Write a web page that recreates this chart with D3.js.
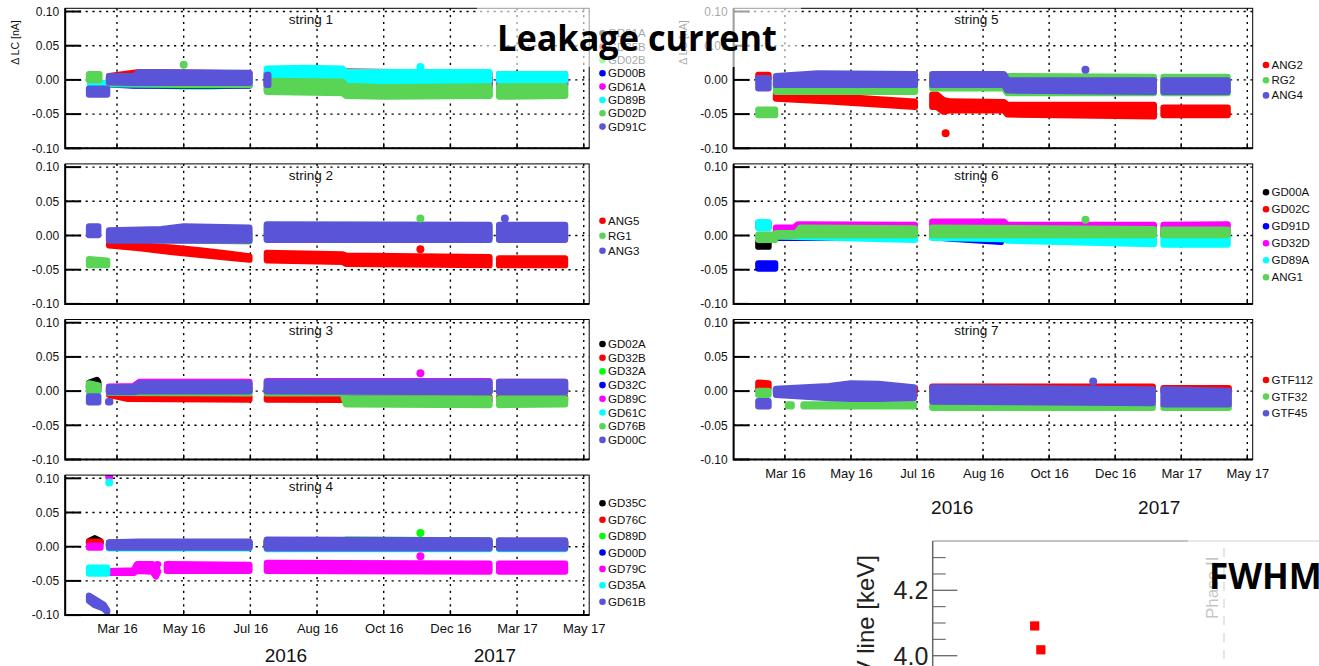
<!DOCTYPE html>
<html>
<head>
<meta charset="utf-8">
<script src="https://cdn.jsdelivr.net/npm/d3@7"></script>
<style>
body { margin: 0; background: #fff; }
</style>
</head>
<body>
<div id="chart"></div>
<script>
// ROOT time axis: one tick every 60 days, day 0 = "Mar 16"
var tickDays = [0, 60, 120, 180, 240, 300, 360, 420];
var tickLabels = ["Mar 16", "May 16", "Jul 16", "Aug 16", "Oct 16", "Dec 16", "Mar 17", "May 17"];
var yearDays = [152, 340];
var yearLabels = ["2016", "2017"];
var yTicks = [-0.10, -0.05, 0, 0.05, 0.10];
var dayDomain = [-46.6, 424.9];

// each detector: list of segments, a segment is a list of [day, low, high] of the band of points
var string1Names = ["GD91A", "GD35B", "GD02B", "GD00B", "GD61A", "GD89B", "GD02D", "GD91C"];
var string1Bands = [
    [[[-10, -0.006, 0.006], [122, -0.006, 0.006]], [[132, -0.006, 0.006], [338, -0.006, 0.006]], [[341, -0.006, 0.006], [406, -0.006, 0.006]]],
    [[[-10, -0.004, 0.010], [20, -0.003, 0.016], [122, -0.003, 0.014]], [[132, -0.003, 0.015], [160, -0.002, 0.018], [200, -0.002, 0.017], [338, -0.004, 0.014]], [[341, -0.004, 0.013], [406, -0.004, 0.013]]],
    [[[-10, -0.011, 0.0], [60, -0.014, 0.0], [85, -0.014, 0.0], [122, -0.012, 0.0]], [[132, -0.020, -0.004], [338, -0.027, -0.006]], [[341, -0.027, -0.006], [406, -0.027, -0.006]]],
    [[[-10, -0.011, 0.004], [15, -0.013, 0.006], [122, -0.013, 0.006]], [[132, -0.012, 0.004], [338, -0.012, 0.004]], [[341, -0.012, 0.004], [406, -0.012, 0.004]]],
    [[[-27, -0.016, -0.004], [-9, -0.016, -0.004]], [[132, -0.010, 0.004], [338, -0.012, 0.004]], [[341, -0.013, 0.004], [406, -0.013, 0.004]]],
    [[[-27, -0.012, 0.0], [-8, -0.012, 0.0]], [[-10, -0.011, 0.006], [122, -0.012, 0.006]], [[132, -0.004, 0.021], [170, -0.003, 0.022], [203, -0.003, 0.021], [206, -0.006, 0.016], [338, -0.006, 0.016]], [[341, -0.006, 0.013], [406, -0.006, 0.013]]],
    [[[-28, -0.005, 0.013], [-13, -0.005, 0.013]], [[-10, -0.010, 0.008], [60, -0.012, 0.010], [122, -0.012, 0.008]], [[132, -0.022, 0.003], [203, -0.024, 0.002], [206, -0.028, -0.004], [240, -0.029, -0.006], [338, -0.028, -0.005]], [[341, -0.029, -0.005], [406, -0.028, -0.005]]],
    [[[-28, -0.026, -0.008], [-6, -0.026, -0.008]], [[-10, -0.008, 0.010], [15, -0.009, 0.010], [20, -0.009, 0.016], [122, -0.009, 0.015]], [[132, -0.012, 0.012], [139, -0.012, 0.012]]]
];
var string1Outliers = [[6, 60, 0.022], [5, 273, 0.019]];

var string2Names = ["ANG5", "RG1", "ANG3"];
var string2Bands = [
    [[[-10, -0.019, -0.008], [20, -0.023, -0.010], [50, -0.029, -0.013], [75, -0.033, -0.017], [100, -0.037, -0.022], [122, -0.040, -0.026]], [[132, -0.041, -0.021], [203, -0.043, -0.023], [206, -0.046, -0.025], [338, -0.048, -0.027]], [[341, -0.048, -0.029], [406, -0.048, -0.029]]],
    [[[-28, -0.048, -0.030], [-6, -0.048, -0.032]], [[-10, -0.010, 0.008], [122, -0.013, 0.008]], [[132, -0.010, 0.018], [338, -0.008, 0.018]], [[341, -0.008, 0.018], [406, -0.008, 0.018]]],
    [[[-28, -0.004, 0.018], [-14, -0.004, 0.018]], [[-10, -0.012, 0.012], [40, -0.012, 0.014], [60, -0.012, 0.018], [122, -0.012, 0.016]], [[132, -0.011, 0.021], [338, -0.011, 0.020]], [[341, -0.011, 0.020], [406, -0.011, 0.020]]]
];
var string2Outliers = [[0, 273, -0.020], [1, 273, 0.025], [2, 349, 0.025]];

var string3Names = ["GD02A", "GD32B", "GD32A", "GD32C", "GD89C", "GD61C", "GD76B", "GD00C"];
var string3Bands = [
    [[[-28, 0.001, 0.017], [-18, 0.002, 0.021], [-14, 0.001, 0.018]], [[-10, -0.004, 0.008], [122, -0.004, 0.008]], [[132, -0.004, 0.008], [338, -0.004, 0.008]], [[341, -0.004, 0.008], [406, -0.004, 0.008]]],
    [[[-10, -0.010, 0.0], [10, -0.016, -0.003], [122, -0.017, -0.004]], [[132, -0.017, -0.004], [338, -0.018, -0.004]], [[341, -0.018, -0.004], [406, -0.018, -0.004]]],
    [[[-28, -0.003, 0.012], [-14, -0.003, 0.012]], [[-10, -0.005, 0.005], [122, -0.005, 0.005]], [[132, -0.005, 0.005], [338, -0.005, 0.005]], [[341, -0.005, 0.005], [406, -0.005, 0.005]]],
    [[[-10, -0.005, 0.005], [122, -0.005, 0.005]], [[132, -0.005, 0.005], [338, -0.005, 0.005]], [[341, -0.005, 0.005], [406, -0.005, 0.005]]],
    [[[-28, 0.0, 0.012], [-14, 0.0, 0.012]], [[-10, 0.0, 0.011], [15, 0.0, 0.012], [20, 0.0, 0.018], [122, 0.0, 0.018]], [[132, 0.0, 0.019], [338, 0.0, 0.019]], [[341, 0.0, 0.018], [406, 0.0, 0.018]]],
    [[[-28, -0.006, 0.006], [-14, -0.006, 0.006]], [[-10, -0.006, 0.006], [122, -0.006, 0.006]], [[132, -0.006, 0.006], [338, -0.006, 0.006]], [[341, -0.006, 0.006], [406, -0.006, 0.006]]],
    [[[-28, -0.005, 0.016], [-14, -0.004, 0.013]], [[-10, -0.007, 0.004], [122, -0.008, 0.004]], [[132, -0.008, 0.004], [203, -0.008, 0.004], [206, -0.024, -0.006], [338, -0.025, -0.006]], [[341, -0.025, -0.006], [406, -0.024, -0.006]]],
    [[[-28, -0.021, -0.003], [-14, -0.021, -0.003]], [[-9, -0.021, -0.010], [-5, -0.021, -0.010]], [[-10, -0.006, 0.010], [15, -0.006, 0.010], [20, -0.005, 0.016], [122, -0.005, 0.016]], [[132, -0.005, 0.018], [338, -0.006, 0.018]], [[341, -0.006, 0.018], [406, -0.006, 0.018]]]
];
var string3Outliers = [[4, 273, 0.026]];

var string4Names = ["GD35C", "GD76C", "GD89D", "GD00D", "GD79C", "GD35A", "GD61B"];
var string4Bands = [
    [[[-28, 0.002, 0.013], [-20, 0.003, 0.017], [-12, 0.002, 0.013]], [[-10, -0.003, 0.010], [122, -0.003, 0.010]], [[132, -0.003, 0.012], [338, -0.003, 0.012]], [[341, -0.003, 0.012], [406, -0.003, 0.012]]],
    [[[-28, 0.0, 0.012], [-12, 0.0, 0.012]], [[-10, -0.003, 0.010], [122, -0.003, 0.010]], [[132, -0.003, 0.014], [203, -0.003, 0.014], [206, -0.003, 0.012], [338, -0.003, 0.012]], [[341, -0.003, 0.012], [406, -0.003, 0.012]]],
    [[[-10, -0.003, 0.008], [122, -0.003, 0.008]], [[132, -0.003, 0.012], [203, -0.003, 0.012], [206, -0.003, 0.015], [338, -0.003, 0.014]], [[341, -0.003, 0.013], [406, -0.003, 0.012]]],
    [[[-10, -0.004, 0.006], [122, -0.004, 0.006]], [[132, -0.004, 0.006], [338, -0.004, 0.006]], [[341, -0.004, 0.006], [406, -0.004, 0.006]]],
    [[[-28, -0.006, 0.006], [-12, -0.006, 0.006]], [[-10, -0.043, -0.031], [15, -0.043, -0.030], [18, -0.040, -0.021], [32, -0.041, -0.021], [35, -0.048, -0.025], [37, -0.041, -0.021], [39, -0.040, -0.021]], [[42, -0.040, -0.021], [122, -0.040, -0.022]], [[132, -0.040, -0.019], [338, -0.041, -0.020]], [[341, -0.041, -0.020], [406, -0.041, -0.020]]],
    [[[-28, -0.044, -0.026], [-6, -0.044, -0.026]], [[-10, -0.007, 0.005], [122, -0.007, 0.005]], [[132, -0.008, 0.005], [338, -0.008, 0.005]], [[341, -0.008, 0.005], [406, -0.008, 0.005]]],
    [[[-28, -0.084, -0.067], [-20, -0.090, -0.072], [-12, -0.095, -0.080], [-6, -0.100, -0.088]], [[-10, -0.006, 0.011], [20, -0.006, 0.012], [122, -0.006, 0.012]], [[132, -0.007, 0.015], [338, -0.007, 0.014]], [[341, -0.007, 0.014], [406, -0.007, 0.014]]]
];
var string4Outliers = [[4, -7, 0.102], [5, -7, 0.094], [2, 273, 0.020], [4, 273, -0.014]];

var string5Names = ["ANG2", "RG2", "ANG4"];
var string5Bands = [
    [[[-27, -0.002, 0.012], [-12, -0.002, 0.012]], [[-11, -0.032, -0.015], [40, -0.036, -0.019], [121, -0.044, -0.027]], [[131, -0.044, -0.017], [138, -0.044, -0.017], [144, -0.051, -0.025], [150, -0.049, -0.027], [199, -0.049, -0.028], [202, -0.055, -0.032], [338, -0.058, -0.032]], [[341, -0.056, -0.036], [405, -0.056, -0.036]]],
    [[[-27, -0.056, -0.039], [-6, -0.056, -0.039]], [[-11, -0.022, 0.0], [121, -0.022, 0.0]], [[131, -0.017, 0.005], [199, -0.017, 0.005], [202, -0.024, 0.010], [338, -0.024, 0.009]], [[341, -0.024, 0.009], [405, -0.024, 0.009]]],
    [[[-27, -0.017, 0.007], [-12, -0.017, 0.007]], [[-11, -0.012, 0.010], [30, -0.012, 0.014], [121, -0.012, 0.013]], [[131, -0.012, 0.013], [199, -0.012, 0.013], [202, -0.020, 0.004], [338, -0.022, 0.004]], [[341, -0.022, 0.004], [405, -0.022, 0.004]]]
];
var string5Outliers = [[0, 146, -0.078], [2, 273, 0.015]];

var string6Names = ["GD00A", "GD02C", "GD91D", "GD32D", "GD89A", "ANG1"];
var string6Bands = [
    [[[-27, -0.021, -0.005], [-12, -0.021, -0.005]], [[-11, -0.004, 0.006], [121, -0.004, 0.006]], [[131, -0.004, 0.006], [338, -0.004, 0.006]], [[341, -0.004, 0.006], [405, -0.004, 0.006]]],
    [[[-11, -0.004, 0.006], [121, -0.004, 0.006]], [[131, -0.004, 0.006], [338, -0.004, 0.006]], [[341, -0.004, 0.006], [405, -0.004, 0.006]]],
    [[[-27, -0.053, -0.036], [-6, -0.053, -0.036]], [[-11, -0.008, 0.003], [121, -0.008, 0.003]], [[131, -0.007, 0.004], [150, -0.009, 0.004], [199, -0.014, 0.0]]],
    [[[-27, 0.008, 0.023], [-12, 0.008, 0.023]], [[-11, 0.0, 0.016], [8, 0.0, 0.016], [12, 0.0, 0.021], [121, 0.0, 0.020]], [[131, 0.0, 0.025], [199, 0.0, 0.025], [202, 0.0, 0.020], [338, 0.0, 0.020]], [[341, 0.0, 0.020], [405, 0.0, 0.021]]],
    [[[-27, 0.006, 0.024], [-12, 0.006, 0.024]], [[-11, -0.006, 0.006], [121, -0.011, 0.006]], [[131, -0.008, 0.006], [199, -0.010, 0.006], [202, -0.012, 0.006], [338, -0.017, 0.006]], [[341, -0.018, 0.006], [405, -0.018, 0.006]]],
    [[[-27, -0.011, 0.006], [-6, -0.011, 0.006]], [[-11, -0.006, 0.008], [10, -0.005, 0.008], [14, -0.004, 0.016], [121, -0.004, 0.015]], [[131, -0.004, 0.016], [338, -0.004, 0.014]], [[341, -0.004, 0.013], [405, -0.004, 0.013]]]
];
var string6Outliers = [[5, 273, 0.023]];

var string7Names = ["GTF112", "GTF32", "GTF45"];
var string7Bands = [
    [[[-27, 0.0, 0.017], [-12, 0.0, 0.016]], [[-11, -0.005, 0.006], [121, -0.005, 0.009]], [[131, -0.005, 0.011], [337, -0.005, 0.011]], [[341, -0.005, 0.009], [406, -0.005, 0.009]]],
    [[[-27, -0.010, 0.005], [-12, -0.010, 0.005]], [[0, -0.027, -0.015], [9, -0.027, -0.015]], [[14, -0.027, -0.015], [120, -0.027, -0.015]], [[131, -0.029, -0.017], [337, -0.029, -0.017]], [[341, -0.029, -0.017], [406, -0.029, -0.017]]],
    [[[-27, -0.027, -0.010], [-12, -0.027, -0.010]], [[-11, -0.010, 0.008], [40, -0.015, 0.012], [60, -0.016, 0.016], [85, -0.016, 0.015], [120, -0.015, 0.010]], [[131, -0.020, 0.010], [337, -0.022, 0.007]], [[341, -0.024, 0.007], [406, -0.024, 0.005]]]
];
var string7Outliers = [[2, 280, 0.014]];

// FWHM panel (only its corner is visible)
var fwhmMajor = [4.0, 4.2];
var fwhmMinor = [4.05, 4.10, 4.15, 4.25, 4.30];
var fwhmRuns = [26.4, 28.0];
var fwhmValues = [4.091, 4.018];
var phase2Run = 75.4;

// ROOT colour numbers
var rootPalette = {1: "#000000", 2: "#ff0000", 3: "#00ff00", 4: "#0000ff", 6: "#ff00ff", 7: "#00ffff", 8: "#59d454", 9: "#5954d8"};

var panels = [
    {title: "string 1", names: string1Names, bands: string1Bands, outliers: string1Outliers, colors: [1, 2, 3, 4, 6, 7, 8, 9], col: 0, row: 0, legY: 33.3, legStep: 13.33},
    {title: "string 2", names: string2Names, bands: string2Bands, outliers: string2Outliers, colors: [2, 8, 9], col: 0, row: 1, legY: 220.7, legStep: 15},
    {title: "string 3", names: string3Names, bands: string3Bands, outliers: string3Outliers, colors: [1, 2, 3, 4, 6, 7, 8, 9], col: 0, row: 2, legY: 344, legStep: 13.7},
    {title: "string 4", names: string4Names, bands: string4Bands, outliers: string4Outliers, colors: [1, 2, 3, 4, 6, 7, 9], col: 0, row: 3, legY: 503.3, legStep: 16.4},
    {title: "string 5", names: string5Names, bands: string5Bands, outliers: string5Outliers, colors: [2, 8, 9], col: 1, row: 0, legY: 65, legStep: 15.2},
    {title: "string 6", names: string6Names, bands: string6Bands, outliers: string6Outliers, colors: [1, 2, 4, 6, 7, 8], col: 1, row: 1, legY: 192.3, legStep: 17},
    {title: "string 7", names: string7Names, bands: string7Bands, outliers: string7Outliers, colors: [2, 8, 9], col: 1, row: 2, legY: 380, legStep: 16.6}
];

var cols = [
    {x0: 65.2, x1: 589.2, legX: 602.5, titleX: 311, yearDy: 47},
    {x0: 733.6, x1: 1252.7, legX: 1266, titleX: 976.5, yearDy: 54}
];
var rowTop = 8.3, rowStep = 155.6, frameH = 140;
var font = "'Liberation Sans', Arial, Helvetica, sans-serif";

var svg = d3.select("#chart").append("svg").attr("width", 1319).attr("height", 666).style("font-family", font);
svg.append("rect").attr("width", 1319).attr("height", 666).attr("fill", "#fff");
var defs = svg.append("defs");

function drawPanel(p, k) {
    var c = cols[p.col];
    var top = rowTop + p.row * rowStep;
    var bottom = top + frameH;
    var x = d3.scaleLinear().domain(dayDomain).range([c.x0, c.x1]);
    var y = d3.scaleLinear().domain([-0.10, 0.1047]).range([bottom, top]);
    var g = svg.append("g");

    // dotted grid
    g.selectAll(".hgrid").data(yTicks).enter().append("line")
        .attr("x1", c.x0).attr("x2", c.x1).attr("y1", y).attr("y2", y)
        .attr("stroke", "#000").attr("stroke-width", 1.4).attr("stroke-dasharray", "2.2,4.6");
    g.selectAll(".vgrid").data(tickDays).enter().append("line")
        .attr("x1", x).attr("x2", x).attr("y1", top).attr("y2", bottom)
        .attr("stroke", "#000").attr("stroke-width", 1.4).attr("stroke-dasharray", "2.2,4.6");

    defs.append("clipPath").attr("id", "clip" + k).append("rect")
        .attr("x", c.x0).attr("y", top).attr("width", c.x1 - c.x0).attr("height", frameH);
    var dg = g.append("g").attr("clip-path", "url(#clip" + k + ")");

    // bands of points: stroked area so the outline is rounded like the dots
    var r = 3.2;
    var area = d3.area()
        .x(function (d, i, arr) { return x(d[0]) + (i === 0 ? r : (i === arr.length - 1 ? -r : 0)); })
        .y0(function (d) { return y(d[1]) - r; })
        .y1(function (d) { return y(d[2]) + r; });
    p.bands.forEach(function (segs, i) {
        var col = rootPalette[p.colors[i]];
        dg.selectAll(null).data(segs).enter().append("path")
            .attr("d", area).attr("fill", col).attr("stroke", col)
            .attr("stroke-width", r * 2).attr("stroke-linejoin", "round");
    });
    dg.selectAll(".out").data(p.outliers).enter().append("circle")
        .attr("cx", function (d) { return x(d[1]); }).attr("cy", function (d) { return y(d[2]); })
        .attr("r", 4).attr("fill", function (d) { return rootPalette[p.colors[d[0]]]; });

    // frame and ticks
    g.append("rect").attr("x", c.x0).attr("y", top).attr("width", c.x1 - c.x0).attr("height", frameH)
        .attr("fill", "none").attr("stroke", "#000").attr("stroke-width", 1);
    g.append("path").attr("d", "M" + c.x0 + "," + top + "V" + bottom + "H" + c.x1)
        .attr("fill", "none").attr("stroke", "#000").attr("stroke-width", 2);
    g.selectAll(".ytick").data(yTicks).enter().append("line")
        .attr("x1", c.x0).attr("x2", c.x0 + 16).attr("y1", y).attr("y2", y)
        .attr("stroke", "#000").attr("stroke-width", 2);
    g.selectAll(".xtick").data(tickDays).enter().append("line")
        .attr("x1", x).attr("x2", x).attr("y1", bottom - 5).attr("y2", bottom)
        .attr("stroke", "#000").attr("stroke-width", 1.4);

    var ya = g.append("g").attr("transform", "translate(" + c.x0 + ",0)")
        .call(d3.axisLeft(y).tickValues(yTicks).tickSize(0).tickPadding(6)
            .tickFormat(function (d) { return d.toFixed(2); }));
    ya.select(".domain").remove();
    ya.selectAll("text").attr("font-size", 12).attr("font-family", font).attr("fill", "#111");

    g.append("text").attr("x", c.titleX).attr("y", top + 15.8).attr("text-anchor", "middle")
        .attr("font-size", 13.5).attr("fill", "#111").text(p.title);

    // legend
    var leg = g.selectAll(".leg").data(p.names).enter().append("g")
        .attr("transform", function (d, i) { return "translate(" + c.legX + "," + (p.legY + i * p.legStep) + ")"; });
    leg.append("circle").attr("r", 3.3).attr("fill", function (d, i) { return rootPalette[p.colors[i]]; });
    leg.append("text").attr("x", 5.5).attr("y", 4).attr("font-size", 11.5).attr("fill", "#111")
        .text(function (d) { return d; });

    if (p.row === 0) {
        g.append("text").attr("transform", "translate(" + (c.x0 - 46.5) + "," + 42.5 + ") rotate(-90)")
            .attr("text-anchor", "middle").attr("font-size", 10.5).attr("fill", "#111").text("\u0394 LC [nA]");
    }
    var last = (p.col === 0 && p.row === 3) || (p.col === 1 && p.row === 2);
    if (last) {
        var xa = g.append("g").attr("transform", "translate(0," + bottom + ")")
            .call(d3.axisBottom(x).tickValues(tickDays).tickSize(0).tickPadding(9)
                .tickFormat(function (d, i) { return tickLabels[i]; }));
        xa.select(".domain").remove();
        xa.selectAll("text").attr("font-size", 13).attr("font-family", font).attr("fill", "#111");
        g.selectAll(".year").data(yearDays).enter().append("text")
            .attr("x", x).attr("y", bottom + c.yearDy).attr("text-anchor", "middle")
            .attr("font-size", 19).attr("fill", "#111")
            .text(function (d, i) { return yearLabels[i]; });
    }
}

panels.forEach(drawPanel);

// partial FWHM chart at the bottom right
var fx = d3.scaleLinear().domain([0, 100]).range([932.7, 1319]);
var fy = d3.scaleLinear().domain([4.0, 4.2]).range([655.7, 590.3]);
var fg = svg.append("g");
fg.append("line").attr("x1", fx(phase2Run)).attr("x2", fx(phase2Run)).attr("y1", 548).attr("y2", 666)
    .attr("stroke", "#aaa").attr("stroke-width", 1.6).attr("stroke-dasharray", "9,8");
fg.append("text").attr("transform", "translate(" + (fx(phase2Run) - 6) + ",619) rotate(-90)")
    .attr("font-size", 17).attr("fill", "#666").text("Phase II");
fg.append("line").attr("x1", 932.7).attr("x2", 1319).attr("y1", 541).attr("y2", 541)
    .attr("stroke", "#888").attr("stroke-width", 1);
fg.append("line").attr("x1", 932.7).attr("x2", 932.7).attr("y1", 541).attr("y2", 666)
    .attr("stroke", "#666").attr("stroke-width", 1.5);
fg.selectAll(".fmaj").data(fwhmMajor).enter().append("line")
    .attr("x1", 932.7).attr("x2", 957.3).attr("y1", fy).attr("y2", fy).attr("stroke", "#666").attr("stroke-width", 1.3);
fg.selectAll(".fmin").data(fwhmMinor).enter().append("line")
    .attr("x1", 932.7).attr("x2", 945.7).attr("y1", fy).attr("y2", fy).attr("stroke", "#666").attr("stroke-width", 1.1);
fg.selectAll(".flab").data(fwhmMajor).enter().append("text")
    .attr("x", 928.3).attr("y", function (d) { return fy(d) + 9; }).attr("text-anchor", "end")
    .attr("font-size", 25).attr("fill", "#222").text(function (d) { return d.toFixed(1); });
fg.append("text").attr("transform", "translate(874,555) rotate(-90)").attr("text-anchor", "end")
    .attr("font-size", 24).attr("fill", "#222").text("MeV line [keV]");
fg.selectAll(".sq").data(fwhmValues).enter().append("rect")
    .attr("x", function (d, i) { return fx(fwhmRuns[i]) - 4.6; }).attr("y", function (d) { return fy(d) - 4.6; })
    .attr("width", 9.2).attr("height", 9.2).attr("fill", "#ff0000");

// slide titles with their half transparent boxes
svg.append("rect").attr("x", 477).attr("y", 0).attr("width", 324).attr("height", 67).attr("fill", "#fff").attr("opacity", 0.62);
svg.append("rect").attr("x", 1188).attr("y", 530).attr("width", 131).attr("height", 136).attr("fill", "#fff").attr("opacity", 0.62);
svg.append("text").attr("x", 497).attr("y", 51).attr("font-family", "'Open Sans', 'Noto Sans', sans-serif")
    .attr("font-weight", "bold").attr("font-size", 36).attr("textLength", 280).attr("lengthAdjust", "spacingAndGlyphs")
    .attr("fill", "#000").text("Leakage current");
svg.append("text").attr("x", 1209).attr("y", 588.5).attr("font-family", "'Open Sans', 'Noto Sans', sans-serif")
    .attr("font-weight", "bold").attr("font-size", 35).attr("fill", "#000").text("FWHM");
</script>
</body>
</html>
